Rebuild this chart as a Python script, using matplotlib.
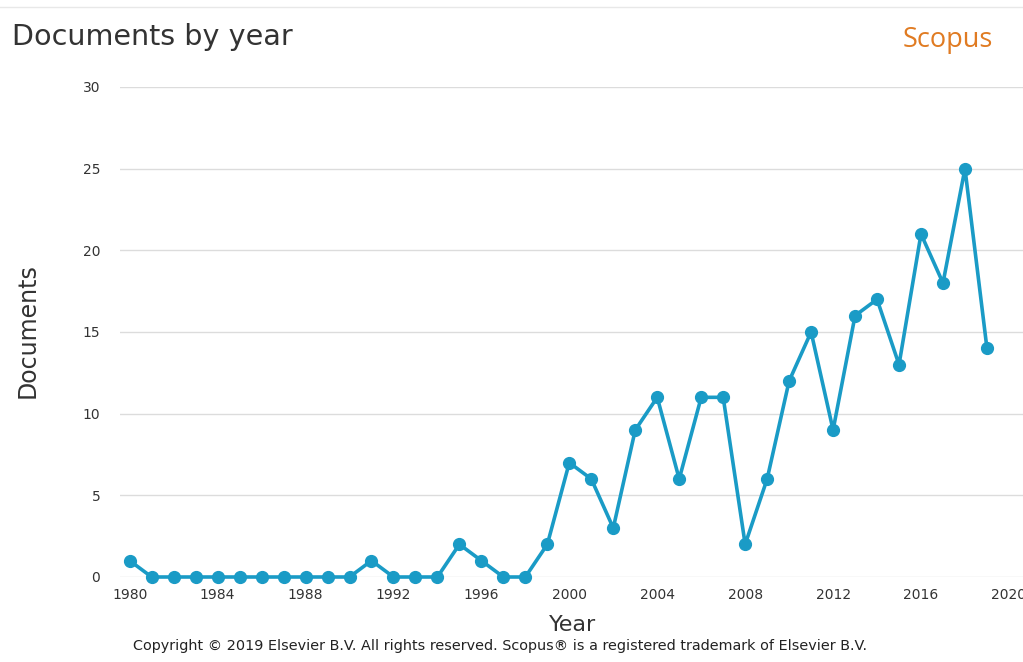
import numpy as np
import matplotlib.pyplot as plt
from matplotlib.lines import Line2D

# data
years = list(range(1980, 2020))
docs = [1, 0, 0, 0, 0, 0, 0, 0, 0, 0,
        0, 1, 0, 0, 0, 2, 1, 0, 0, 2,
        7, 6, 3, 9, 11, 6, 11, 11, 2, 6,
        12, 15, 9, 16, 17, 13, 21, 18, 25, 14]
x_ticks = list(range(1980, 2021, 4))
y_ticks = [0, 5, 10, 15, 20, 25, 30]

line_col = '#1a9bc6'

fig = plt.figure(figsize=(10.23, 6.62), dpi=100)
ax = fig.add_axes([0.117, 0.1284, 0.883, 0.7402])

ax.plot(years, docs, color=line_col, linewidth=2.6, marker='o',
        markersize=8.5, clip_on=False, zorder=3)

ax.set_xlim(1979.545, 2020.64)
ax.set_ylim(0, 30)
ax.set_xticks(x_ticks)
ax.set_yticks(y_ticks)
ax.tick_params(length=0, labelsize=10, labelcolor='#333333', pad=8)
ax.tick_params(axis='y', pad=14)
for s in ax.spines.values():
    s.set_visible(False)
ax.yaxis.grid(True, color='#dcdcdc', linewidth=1)
ax.set_axisbelow(True)

# texts
fig.text(0.012, 0.932, 'Documents by year', fontsize=20.6, color='#333333', ha='left', va='baseline')
fig.text(0.971, 0.94, 'Scopus', fontsize=19.5, color='#e07b22', ha='right', va='center',
         family='Open Sans')
fig.text(0.560, 0.056, 'Year', fontsize=16, color='#333333', ha='center', va='center')
fig.text(0.027, 0.50, 'Documents', fontsize=17, color='#333333', ha='center', va='center',
         rotation=90)
fig.text(0.489, 0.024, 'Copyright \u00a9 2019 Elsevier B.V. All rights reserved. Scopus\u00ae is a registered trademark of Elsevier B.V.',
         fontsize=10.4, color='#222222', ha='center', va='center')

# light separator line at the top
fig.add_artist(Line2D([0.0, 1.0], [0.989, 0.989], color='#e8e8e8', linewidth=1,
                      transform=fig.transFigure))

fig.savefig('out.png', dpi=100)
